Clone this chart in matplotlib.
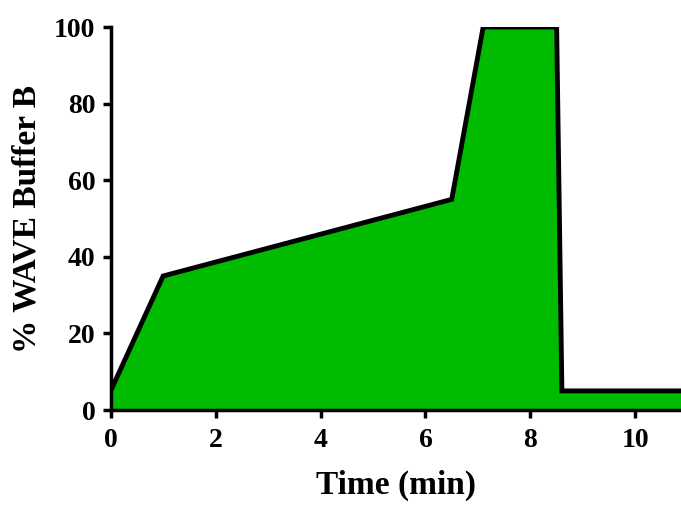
import matplotlib
matplotlib.use('Agg')
from matplotlib import pyplot as plt

# gradient program: time (min) vs % buffer B
time_min = [0, 1, 6.5, 7.1, 8.5, 8.6, 11]
buffer_b = [5, 35, 55, 100, 100, 5, 5]

x_ticks = [0, 2, 4, 6, 8, 10]
y_ticks = [0, 20, 40, 60, 80, 100]

plt.rcParams['font.family'] = ['Liberation Serif', 'DejaVu Serif']
plt.rcParams['font.weight'] = 'bold'

fig = plt.figure(figsize=(6.81, 5.05), dpi=100)
ax = fig.add_axes([0.1625, 0.188, 0.8375, 0.7585])

ax.fill_between(time_min, buffer_b, 0, color='#00bb00', linewidth=0)
ax.plot(time_min, buffer_b, color='black', linewidth=3.5, solid_joinstyle='miter')

ax.set_xlim(0, 10.87)
ax.set_ylim(0, 100)
ax.set_xticks(x_ticks)
ax.set_yticks(y_ticks)

for s in ['top', 'right']:
    ax.spines[s].set_visible(False)
for s in ['left', 'bottom']:
    ax.spines[s].set_linewidth(2.5)

ax.tick_params(direction='out', length=6, width=2.5, labelsize=20, pad=5)
ax.tick_params(axis='x', pad=7)
for lab in ax.get_xticklabels() + ax.get_yticklabels():
    lab.set_fontweight('bold')

ax.set_xlabel('Time (min)', fontsize=24, fontweight='bold', labelpad=12)
ax.set_ylabel('% WAVE Buffer B', fontsize=24, fontweight='bold', labelpad=8)

fig.savefig('out.png', dpi=100)
